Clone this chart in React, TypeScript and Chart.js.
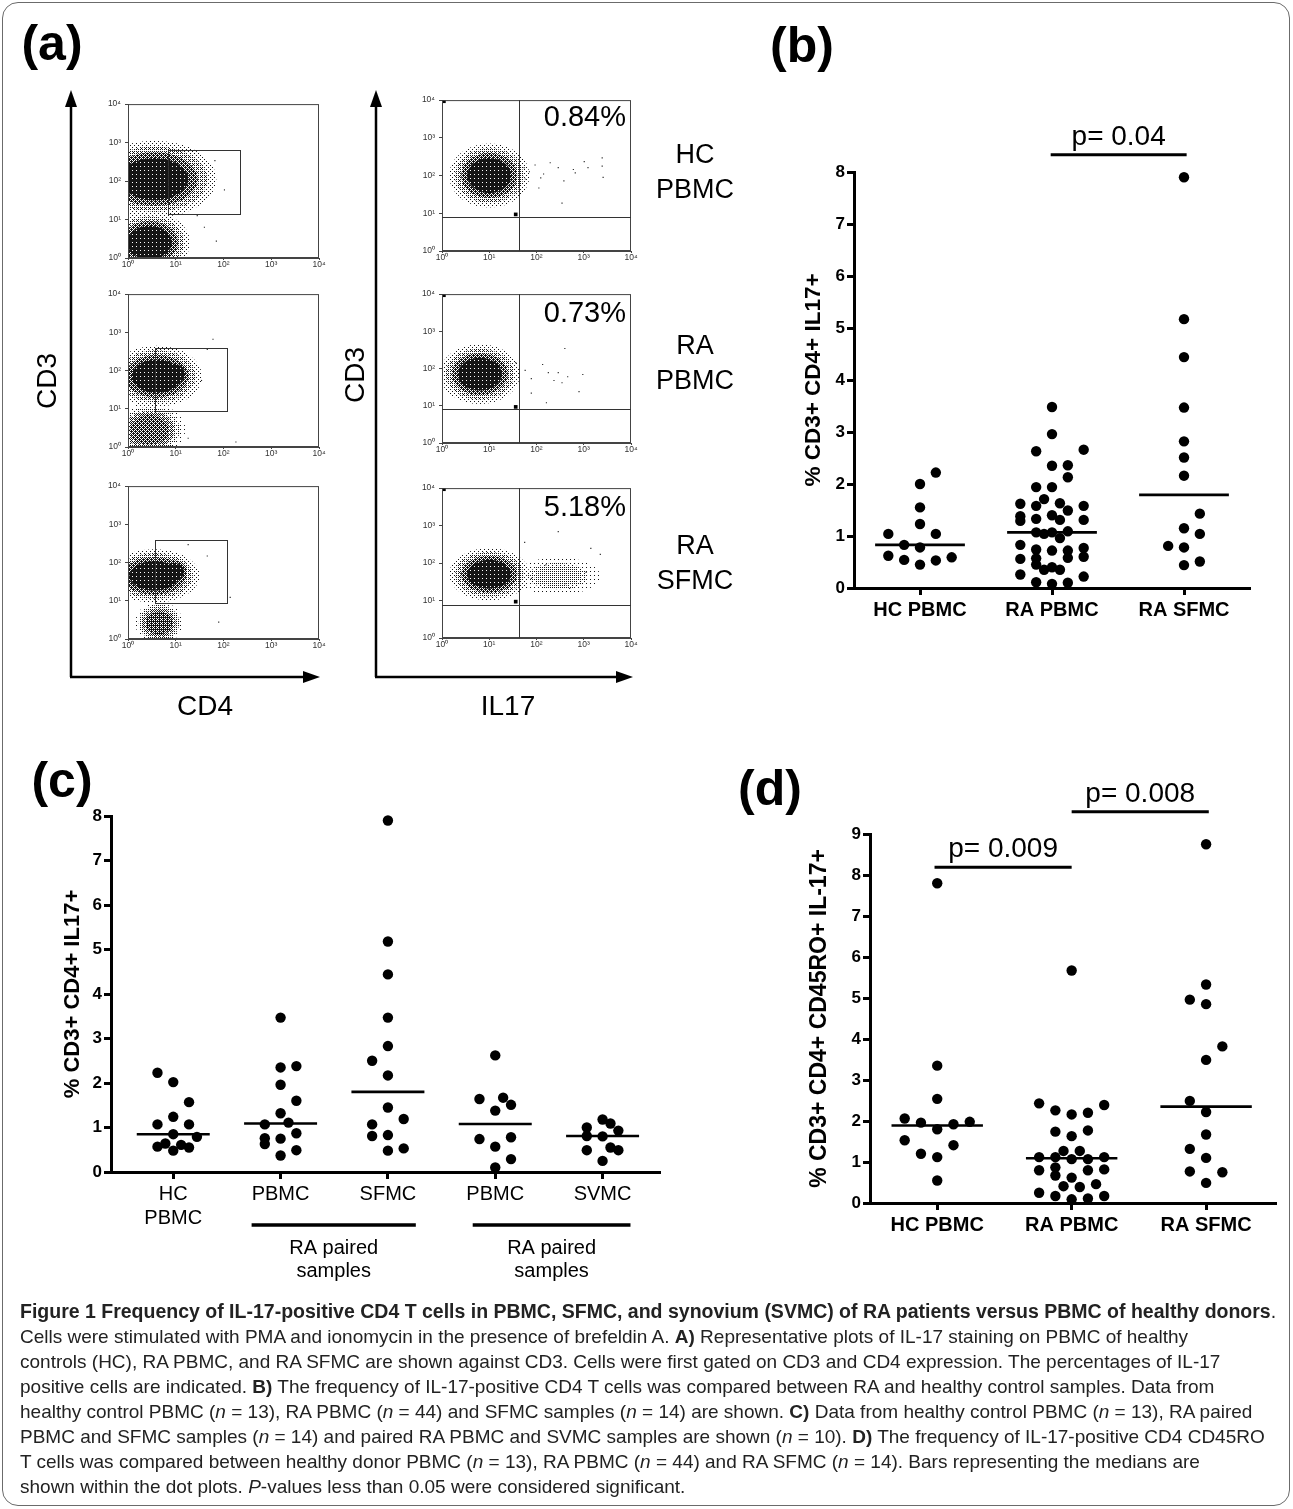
import { useEffect, useRef } from "react";
import type { ReactNode } from "react";
import { Chart, registerables } from "chart.js";

Chart.register(...registerables);

const FONT = "'Liberation Sans', Arial, Helvetica, sans-serif";

// ---------- panel (b): % CD3+ CD4+ IL17+ ----------
const bLabels = ["HC PBMC", "RA PBMC", "RA SFMC"];
const bHcValues = [2.22, 2.0, 1.55, 1.23, 1.04, 1.04, 0.83, 0.78, 0.62, 0.54, 0.45, 0.53, 0.59];
const bHcCols = [1, 0, 0, 0, -2, 1, -1, 0, -2, -1, 0, 1, 2];
const bRaPbmcValues = [
  3.48, 2.96, 2.63, 2.66, 2.35, 2.36, 2.13, 1.94, 1.94, 1.71, 1.62, 1.58, 1.63, 1.58, 1.49,
  1.38, 1.29, 1.33, 1.4, 1.31, 1.31, 1.07, 1.04, 1.07, 0.96, 1.09, 0.83, 0.74, 0.57, 0.45,
  0.72, 0.72, 0.58, 0.77, 0.6, 0.56, 0.35, 0.4, 0.35, 0.26, 0.22, 0.11, 0.08, 0.1,
];
const bRaPbmcCols = [
  0, 0, -1, 2, 0, 1, 1, -1, 0, -0.5, -2, -1, 0.5, 2, 1,
  -2, -2, -1, 0, 0.5, 2, -1, -0.5, 0, 0.5, 1, -2, -1, -1, -1,
  0, 1, 1, 2, 2, -2, -0.5, 0, 0.5, -2, 2, -1, 0, 1,
];
const bSfmcValues = [7.9, 5.17, 4.44, 3.47, 2.82, 2.51, 2.16, 1.43, 1.15, 1.04, 0.81, 0.78, 0.44, 0.51];
const bSfmcCols = [0, 0, 0, 0, 0, 0, 0, 1, 0, 1, -1, 0, 0, 1];
const bMedians = [0.83, 1.07, 1.79];
const bComparisons = [{ from: 1.99, to: 3.02, y: 8.33, label: "p= 0.04" }];

// ---------- panel (c): paired samples ----------
const cLabels = [["HC", "PBMC"], "PBMC", "SFMC", "PBMC", "SVMC"];
const cHcValues = [2.23, 2.02, 1.57, 1.24, 1.07, 1.07, 0.85, 0.79, 0.57, 0.64, 0.48, 0.61, 0.55];
const cHcCols = [-1, 0, 1, 0, -1, 1, 0, 1.5, -1, -0.5, 0, 0.5, 1];
const cPairPbmcValues = [3.47, 2.35, 2.38, 1.96, 1.6, 1.32, 1.07, 1.11, 0.87, 0.76, 0.63, 0.75, 0.49, 0.37];
const cPairPbmcCols = [0, 0, 1, 0, 1, 0, -1, 0.5, 1, -1, -1, 0, 1, 0];
const cSfmcValues = [7.9, 5.18, 4.44, 3.47, 2.83, 2.5, 2.17, 1.45, 1.19, 1.07, 0.81, 0.83, 0.48, 0.53];
const cSfmcCols = [0, 0, 0, 0, 0, -1, 0, 0, 1, -1, -1, 0, 0, 1];
const cSynPbmcValues = [2.62, 1.64, 1.67, 1.51, 1.38, 0.74, 0.78, 0.57, 0.29, 0.1];
const cSynPbmcCols = [0, -1, 0.5, 1, 0, -1, 1, 0, 1, 0];
const cSvmcValues = [1.18, 1.09, 1.0, 0.93, 0.81, 0.8, 0.49, 0.55, 0.49, 0.25];
const cSvmcCols = [0, 0.5, -1, 1, -1, 0, -1, 0.5, 1, 0];
const cMedians = [0.85, 1.09, 1.8, 1.08, 0.81];
const cBrackets = [
  { from: 1.73, to: 3.26, lines: ["RA paired", "samples"] },
  { from: 3.79, to: 5.26, lines: ["RA paired", "samples"] },
];

// ---------- panel (d): % CD3+ CD4+ CD45RO+ IL-17+ ----------
const dLabels = ["HC PBMC", "RA PBMC", "RA SFMC"];
const dHcValues = [7.8, 3.35, 2.54, 2.06, 1.96, 1.92, 1.98, 1.8, 1.53, 1.41, 1.2, 1.12, 0.55];
const dHcCols = [0, 0, 0, -2, -1, 1, 2, 0, -2, 1, -1, 0, 0];
const dRaPbmcValues = [
  5.67, 2.43, 2.26, 2.16, 2.2, 2.39, 1.74, 1.63, 1.77, 1.27, 1.27, 1.12, 1.12, 1.07, 1.07,
  1.12, 0.8, 0.87, 0.67, 0.8, 0.82, 0.62, 0.41, 0.39, 0.46, 0.25, 0.17, 0.09, 0.11, 0.17,
];
const dRaPbmcCols = [
  0, -2, -1, 0, 1, 2, -1, 0, 1, -0.5, 0.5, -2, -1, 0, 1,
  2, -2, -1, -1, 1, 2, 0, -0.5, 0.5, 1.5, -2, -1, 0, 1, 2,
];
const dSfmcValues = [8.75, 5.33, 4.96, 4.85, 3.82, 3.49, 2.49, 2.22, 1.67, 1.32, 1.1, 0.77, 0.75, 0.49];
const dSfmcCols = [0, 0, -1, 0, 1, 0, -1, 0, 0, -1, 0, -1, 1, 0];
const dMedians = [1.89, 1.09, 2.35];
const dComparisons = [
  { from: 0.98, to: 2.0, y: 8.19, label: "p= 0.009" },
  { from: 2.0, to: 3.02, y: 9.54, label: "p= 0.008" },
];

// ---------- panel (a): flow plots, everything in log10 units ----------
const decades = [1, 10, 100, 1000, 10000];
const superscripts = ["\u2070", "\u00b9", "\u00b2", "\u00b3", "\u2074"];
// [centre x, centre y, spread x, spread y, darkness]
const cd4Clusters = [
  [[0.55, 2.05, 1.3, 1.0, 1], [0.45, 0.4, 0.85, 0.8, 1]],
  [[0.6, 1.85, 0.95, 0.8, 1], [0.95, 1.9, 0.45, 0.5, 1], [0.45, 0.45, 0.75, 0.7, 0.7]],
  [[0.55, 1.65, 0.95, 0.7, 1], [0.95, 1.75, 0.4, 0.45, 1], [0.65, 0.42, 0.5, 0.55, 0.75]],
];
const cd4Sparse = [
  [[1.82, 2.53], [2.02, 1.77], [1.85, 0.44], [1.45, 1.1], [1.6, 0.8]],
  [[1.78, 2.82], [1.66, 2.55], [1.54, 1.74], [2.26, 0.13], [1.26, 0.23]],
  [[1.26, 2.47], [1.66, 2.17], [1.34, 0.93], [1.9, 0.44], [2.14, 1.09]],
];
// [x min, x max, y min, y max]
const cd4Gates = [
  [0.83, 2.33, 1.15, 2.82],
  [0.56, 2.06, 0.93, 2.58],
  [0.56, 2.06, 0.93, 2.59],
];
const il17Clusters = [
  [[1.0, 2.0, 0.85, 0.85, 1]],
  [[0.8, 1.85, 0.85, 0.8, 1]],
  [[1.0, 1.7, 0.85, 0.7, 1], [2.45, 1.65, 0.9, 0.5, 0.3]],
];
const il17Sparse = [
  [[1.74, 2.21], [1.76, 1.91], [1.97, 2.28], [2.05, 1.67], [2.15, 2.04], [2.29, 2.34], [2.46, 2.21],
    [2.54, 1.27], [2.58, 1.86], [2.78, 2.16], [2.82, 2.07], [3.01, 2.37], [3.09, 2.21], [3.39, 2.47],
    [3.39, 2.25], [3.41, 1.95], [2.09, 1.94], [1.85, 2.1]],
  [[1.56, 2.16], [1.76, 1.95], [1.89, 1.73], [2.13, 2.11], [2.25, 1.89], [2.37, 1.68], [2.46, 1.89],
    [2.54, 1.62], [2.6, 2.54], [2.66, 1.78], [2.98, 1.84], [2.9, 1.38], [1.89, 1.34], [2.21, 1.08]],
  [[2.46, 2.84], [3.15, 2.39], [3.35, 2.23], [1.89, 1.59], [2.7, 1.32], [1.75, 2.55], [3.05, 1.75],
    [2.2, 1.95], [2.6, 1.45]],
];
// [vertical line x, horizontal line y]
const il17Quadrants = [[1.63, 0.91], [1.63, 0.9], [1.63, 0.88]];
const il17Markers = [[0.04, 3.97], [1.56, 0.97]];
const il17Percents = ["0.84%", "0.73%", "5.18%"];
const sampleNames = [["HC", "PBMC"], ["RA", "PBMC"], ["RA", "SFMC"]];

const BAYER = [
  [0, 8, 2, 10],
  [12, 4, 14, 6],
  [3, 11, 1, 9],
  [15, 7, 13, 5],
];
const DENSITY_LAYERS = [
  [1.0, 0.12],
  [0.85, 0.3],
  [0.7, 0.6],
  [0.55, 0.92],
];

function speckle(ctx: CanvasRenderingContext2D, density: number) {
  const tile = document.createElement("canvas");
  tile.width = 4;
  tile.height = 4;
  const t = tile.getContext("2d")!;
  t.fillStyle = "#151515";
  for (let i = 0; i < 4; i++) {
    for (let j = 0; j < 4; j++) {
      if ((BAYER[i][j] + 0.5) / 16 < density) t.fillRect(j, i, 1, 1);
    }
  }
  return ctx.createPattern(tile, "repeat")!;
}

type Area = { l: number; t: number; r: number; b: number };

function FlowPlot({
  area,
  clusters,
  sparse,
  gate,
  quadrant,
  markers,
}: {
  area: Area;
  clusters: number[][];
  sparse: number[][];
  gate?: number[];
  quadrant?: number[];
  markers?: number[][];
}) {
  const canvasRef = useRef<HTMLCanvasElement | null>(null);
  const padL = 36;
  const padT = 7;
  const padR = 11;
  const padB = 14;
  const width = area.r - area.l + padL + padR;
  const height = area.b - area.t + padT + padB;

  useEffect(() => {
    if (!canvasRef.current) return;
    const tickLabel = (v: unknown) => "10" + superscripts[Math.round(Math.log10(Number(v)))];
    const axisBase = {
      type: "logarithmic" as const,
      min: 1,
      max: 10000,
      afterBuildTicks: (axis: any) => {
        axis.ticks = decades.map((value) => ({ value }));
      },
      ticks: {
        callback: tickLabel,
        autoSkip: false,
        maxRotation: 0,
        color: "#333",
        font: { family: FONT, size: 8.5 },
      },
      border: { display: true, color: "#444", width: 1 },
    };

    const layers = {
      id: "flowLayers",
      beforeDatasetsDraw(chart: any) {
        const { ctx, chartArea: a } = chart;
        const x = chart.scales.x;
        const y = chart.scales.y;
        ctx.save();
        ctx.beginPath();
        ctx.rect(a.left, a.top, a.right - a.left, a.bottom - a.top);
        ctx.clip();
        for (const [cx, cy, sx, sy, dark] of clusters) {
          const px = x.getPixelForValue(10 ** cx);
          const py = y.getPixelForValue(10 ** cy);
          for (const [k, d] of DENSITY_LAYERS) {
            const rx = x.getPixelForValue(10 ** (cx + sx * k)) - px;
            const ry = py - y.getPixelForValue(10 ** (cy + sy * k));
            ctx.fillStyle = speckle(ctx, d * dark);
            ctx.beginPath();
            ctx.ellipse(px, py, rx, ry, 0, 0, Math.PI * 2);
            ctx.fill();
          }
        }
        ctx.restore();
      },
      afterDatasetsDraw(chart: any) {
        const { ctx, chartArea: a } = chart;
        const x = chart.scales.x;
        const y = chart.scales.y;
        ctx.save();
        ctx.strokeStyle = "#444";
        ctx.lineWidth = 1;
        ctx.strokeRect(a.left + 0.5, a.top + 0.5, a.right - a.left - 1, a.bottom - a.top - 1);
        ctx.strokeStyle = "#333";
        if (gate) {
          const x1 = x.getPixelForValue(10 ** gate[0]);
          const x2 = x.getPixelForValue(10 ** gate[1]);
          const y1 = y.getPixelForValue(10 ** gate[2]);
          const y2 = y.getPixelForValue(10 ** gate[3]);
          ctx.strokeRect(Math.round(x1) + 0.5, Math.round(y2) + 0.5, Math.round(x2 - x1), Math.round(y1 - y2));
        }
        if (quadrant) {
          const qx = Math.round(x.getPixelForValue(10 ** quadrant[0])) + 0.5;
          const qy = Math.round(y.getPixelForValue(10 ** quadrant[1])) + 0.5;
          ctx.beginPath();
          ctx.moveTo(qx, a.top);
          ctx.lineTo(qx, a.bottom);
          ctx.moveTo(a.left, qy);
          ctx.lineTo(a.right, qy);
          ctx.stroke();
        }
        ctx.restore();
      },
    };

    const chart = new Chart(canvasRef.current, {
      type: "scatter",
      data: {
        datasets: [
          {
            data: sparse.map(([a, b]) => ({ x: 10 ** a, y: 10 ** b })),
            pointStyle: "rect",
            pointRadius: 0.8,
            backgroundColor: "#222",
            borderWidth: 0,
          },
          {
            data: (markers || []).map(([a, b]) => ({ x: 10 ** a, y: 10 ** b })),
            pointStyle: "rect",
            pointRadius: 2.6,
            backgroundColor: "#000",
            borderWidth: 0,
          },
        ],
      },
      options: {
        animation: false,
        responsive: false,
        maintainAspectRatio: false,
        events: [],
        layout: { padding: { top: padT, right: padR, left: 0, bottom: 0 } },
        plugins: { legend: { display: false }, tooltip: { enabled: false } },
        scales: {
          x: {
            ...axisBase,
            afterFit: (s: any) => {
              s.height = padB;
            },
            ticks: { ...axisBase.ticks, padding: 0 },
            grid: { drawOnChartArea: false, tickLength: 2, tickColor: "#444", tickWidth: 1 },
          },
          y: {
            ...axisBase,
            afterFit: (s: any) => {
              s.width = padL;
            },
            ticks: { ...axisBase.ticks, padding: 4 },
            grid: { drawOnChartArea: false, tickLength: 3, tickColor: "#444", tickWidth: 1 },
          },
        },
      } as any,
      plugins: [layers],
    });
    return () => chart.destroy();
  }, [area, clusters, sparse, gate, quadrant, markers]);

  return (
    <canvas
      ref={canvasRef}
      width={width}
      height={height}
      style={{ position: "absolute", left: area.l - padL, top: area.t - padT, width, height }}
    />
  );
}

type Group = { values: number[]; cols: number[] };
type Comparison = { from: number; to: number; y: number; label: string };
type Bracket = { from: number; to: number; lines: string[] };

type DotPlotProps = {
  left: number;
  top: number;
  width: number;
  height: number;
  axisWidth: number;
  axisHeight: number;
  padTop: number;
  padRight: number;
  labels: (string | string[])[];
  labelWeight: string;
  groups: Group[];
  medians: number[];
  xMin: number;
  xMax: number;
  yMax: number;
  colStep: number;
  yTitle: string;
  titleSize: number;
  titlePad: number;
  comparisons?: Comparison[];
  brackets?: Bracket[];
};

function DotPlot(p: DotPlotProps) {
  const canvasRef = useRef<HTMLCanvasElement | null>(null);

  useEffect(() => {
    if (!canvasRef.current) return;
    const comparisons = p.comparisons || [];
    const brackets = p.brackets || [];

    const dots = p.groups.map((g, gi) => ({
      data: g.values.map((v, i) => ({ x: gi + 1 + g.cols[i] * p.colStep, y: v })),
      backgroundColor: "#000",
      borderWidth: 0,
      pointRadius: 5.2,
      clip: false,
    }));
    const medianLines = p.medians.map((m, gi) => ({
      data: [
        { x: gi + 1 - 0.34, y: m },
        { x: gi + 1 + 0.34, y: m },
      ],
      showLine: true,
      borderColor: "#000",
      borderWidth: 2.6,
      pointRadius: 0,
      clip: false,
    }));

    const notes = {
      id: "notes",
      afterDatasetsDraw(chart: any) {
        const { ctx, chartArea } = chart;
        const x = chart.scales.x;
        const y = chart.scales.y;
        ctx.save();
        ctx.fillStyle = "#000";
        ctx.strokeStyle = "#000";
        ctx.textAlign = "center";
        for (const c of comparisons) {
          const x1 = x.getPixelForValue(c.from);
          const x2 = x.getPixelForValue(c.to);
          const yy = y.getPixelForValue(c.y);
          ctx.lineWidth = 3;
          ctx.beginPath();
          ctx.moveTo(x1, yy);
          ctx.lineTo(x2, yy);
          ctx.stroke();
          ctx.font = `28px ${FONT}`;
          ctx.textBaseline = "alphabetic";
          ctx.fillText(c.label, (x1 + x2) / 2, yy - 10);
        }
        for (const b of brackets) {
          const x1 = x.getPixelForValue(b.from);
          const x2 = x.getPixelForValue(b.to);
          const base = chartArea.bottom;
          ctx.lineWidth = 3.5;
          ctx.beginPath();
          ctx.moveTo(x1, base + 53);
          ctx.lineTo(x2, base + 53);
          ctx.stroke();
          ctx.font = `20px ${FONT}`;
          ctx.textBaseline = "middle";
          b.lines.forEach((t, i) => ctx.fillText(t, (x1 + x2) / 2, base + 76 + i * 23));
        }
        ctx.restore();
      },
    };

    const axisLines = {
      drawOnChartArea: false,
      drawTicks: true,
      tickLength: 7,
      tickWidth: 3,
      tickColor: "#000",
    };

    const chart = new Chart(canvasRef.current, {
      type: "scatter",
      data: { datasets: [...dots, ...medianLines] as any },
      options: {
        animation: false,
        responsive: false,
        maintainAspectRatio: false,
        events: [],
        layout: { padding: { top: p.padTop, right: p.padRight, left: 0, bottom: 0 } },
        plugins: { legend: { display: false }, tooltip: { enabled: false } },
        scales: {
          x: {
            type: "linear",
            min: p.xMin,
            max: p.xMax,
            afterBuildTicks: (axis: any) => {
              axis.ticks = p.labels.map((_, i) => ({ value: i + 1 }));
            },
            afterFit: (axis: any) => {
              axis.height = p.axisHeight;
            },
            ticks: {
              callback: (v: unknown) => p.labels[Math.round(Number(v)) - 1],
              autoSkip: false,
              maxRotation: 0,
              minRotation: 0,
              padding: 3,
              color: "#000",
              font: { family: FONT, size: 20, weight: p.labelWeight, lineHeight: 1.2 },
            },
            grid: axisLines,
            border: { display: true, color: "#000", width: 3 },
          },
          y: {
            min: 0,
            max: p.yMax,
            afterFit: (axis: any) => {
              axis.width = p.axisWidth;
            },
            ticks: {
              stepSize: 1,
              padding: 2,
              color: "#000",
              font: { family: FONT, size: 17, weight: "bold" },
            },
            grid: axisLines,
            border: { display: true, color: "#000", width: 3 },
            title: {
              display: true,
              text: p.yTitle,
              color: "#000",
              font: { family: FONT, size: p.titleSize, weight: "bold" },
              padding: { top: p.titlePad, bottom: 0 },
            },
          },
        },
      } as any,
      plugins: [notes],
    });
    return () => chart.destroy();
  }, [p]);

  return (
    <canvas
      ref={canvasRef}
      width={p.width}
      height={p.height}
      style={{ position: "absolute", left: p.left, top: p.top, width: p.width, height: p.height }}
    />
  );
}

function Text({
  x,
  y,
  size,
  weight = "normal",
  anchor = "center",
  rotate = false,
  lineHeight = 1.15,
  children,
}: {
  x: number;
  y: number;
  size: number;
  weight?: string;
  anchor?: "center" | "end";
  rotate?: boolean;
  lineHeight?: number;
  children: ReactNode;
}) {
  const tx = anchor === "end" ? "-100%" : "-50%";
  return (
    <div
      style={{
        position: "absolute",
        left: x,
        top: y,
        transform: `translate(${tx}, -50%)${rotate ? " rotate(-90deg)" : ""}`,
        fontSize: size,
        fontWeight: weight as any,
        lineHeight,
        whiteSpace: "nowrap",
        textAlign: "center",
      }}
    >
      {children}
    </div>
  );
}

const leftAreas: Area[] = [
  { l: 128, t: 102, r: 319, b: 258 },
  { l: 128, t: 292, r: 319, b: 447 },
  { l: 128, t: 484, r: 319, b: 639 },
];
const rightAreas: Area[] = [
  { l: 442, t: 98, r: 631, b: 251 },
  { l: 442, t: 292, r: 631, b: 443 },
  { l: 442, t: 486, r: 631, b: 638 },
];

const bGroups = [
  { values: bHcValues, cols: bHcCols },
  { values: bRaPbmcValues, cols: bRaPbmcCols },
  { values: bSfmcValues, cols: bSfmcCols },
];
const cGroups = [
  { values: cHcValues, cols: cHcCols },
  { values: cPairPbmcValues, cols: cPairPbmcCols },
  { values: cSfmcValues, cols: cSfmcCols },
  { values: cSynPbmcValues, cols: cSynPbmcCols },
  { values: cSvmcValues, cols: cSvmcCols },
];
const dGroups = [
  { values: dHcValues, cols: dHcCols },
  { values: dRaPbmcValues, cols: dRaPbmcCols },
  { values: dSfmcValues, cols: dSfmcCols },
];

const bProps: DotPlotProps = {
  left: 790, top: 95, width: 490, height: 545,
  axisWidth: 64, axisHeight: 52, padTop: 77, padRight: 30,
  labels: bLabels, labelWeight: "bold", groups: bGroups, medians: bMedians,
  xMin: 0.5, xMax: 3.5, yMax: 8, colStep: 0.12,
  yTitle: "% CD3+ CD4+ IL17+", titleSize: 22.5, titlePad: 10,
  comparisons: bComparisons,
};
const cProps: DotPlotProps = {
  left: 40, top: 800, width: 630, height: 490,
  axisWidth: 71, axisHeight: 118, padTop: 16, padRight: 10,
  labels: cLabels, labelWeight: "normal", groups: cGroups, medians: cMedians,
  xMin: 0.42, xMax: 5.535, yMax: 8, colStep: 0.147,
  yTitle: "% CD3+ CD4+ IL17+", titleSize: 22, titlePad: 20,
  brackets: cBrackets,
};
const dProps: DotPlotProps = {
  left: 785, top: 760, width: 500, height: 490,
  axisWidth: 85, axisHeight: 47, padTop: 74, padRight: 9,
  labels: dLabels, labelWeight: "bold", groups: dGroups, medians: dMedians,
  xMin: 0.5, xMax: 3.52, yMax: 9, colStep: 0.121,
  yTitle: "% CD3+ CD4+ CD45RO+ IL-17+", titleSize: 23, titlePad: 21,
  comparisons: dComparisons,
};

const captionLines: ReactNode[] = [
  <>
    <b>
      Figure 1 Frequency of IL-17-positive CD4 T cells in PBMC, SFMC, and synovium (SVMC) of RA patients versus PBMC of
      healthy donors
    </b>
    .
  </>,
  <>
    Cells were stimulated with PMA and ionomycin in the presence of brefeldin A. <b>A)</b> Representative plots of IL-17
    staining on PBMC of healthy
  </>,
  <>
    controls (HC), RA PBMC, and RA SFMC are shown against CD3. Cells were first gated on CD3 and CD4 expression. The
    percentages of IL-17
  </>,
  <>
    positive cells are indicated. <b>B)</b> The frequency of IL-17-positive CD4 T cells was compared between RA and healthy
    control samples. Data from
  </>,
  <>
    healthy control PBMC (<i>n</i> = 13), RA PBMC (<i>n</i> = 44) and SFMC samples (<i>n</i> = 14) are shown. <b>C)</b> Data
    from healthy control PBMC (<i>n</i> = 13), RA paired
  </>,
  <>
    PBMC and SFMC samples (<i>n</i> = 14) and paired RA PBMC and SVMC samples are shown (<i>n</i> = 10). <b>D)</b> The
    frequency of IL-17-positive CD4 CD45RO
  </>,
  <>
    T cells was compared between healthy donor PBMC (<i>n</i> = 13), RA PBMC (<i>n</i> = 44) and RA SFMC (<i>n</i> = 14).
    Bars representing the medians are
  </>,
  <>
    shown within the dot plots. <i>P</i>-values less than 0.05 were considered significant.
  </>,
];

function Arrow({ x1, y1, x2, y2 }: { x1: number; y1: number; x2: number; y2: number }) {
  const vertical = x1 === x2;
  const head = vertical
    ? `${x2},${y2} ${x2 - 6},${y2 + 17} ${x2 + 6},${y2 + 17}`
    : `${x2},${y2} ${x2 - 17},${y2 - 6} ${x2 - 17},${y2 + 6}`;
  return (
    <g>
      <line
        x1={x1}
        y1={y1}
        x2={vertical ? x2 : x2 - 10}
        y2={vertical ? y2 + 10 : y2}
        stroke="#000"
        strokeWidth={2.5}
      />
      <polygon points={head} fill="#000" />
    </g>
  );
}

export default function App() {
  return (
    <div
      style={{
        position: "absolute",
        left: 0,
        top: 0,
        width: 1293,
        height: 1509,
        background: "#fff",
        overflow: "hidden",
        fontFamily: FONT,
        color: "#000",
      }}
    >
      <div
        style={{
          position: "absolute",
          left: 2,
          top: 2,
          width: 1286,
          height: 1502,
          border: "1.5px solid #6b6b6b",
          borderRadius: 16,
        }}
      />

      <Text x={52} y={44} size={50} weight="bold">(a)</Text>
      <Text x={802} y={46} size={50} weight="bold">(b)</Text>
      <Text x={62} y={781} size={50} weight="bold">(c)</Text>
      <Text x={770} y={789} size={50} weight="bold">(d)</Text>

      {leftAreas.map((area, i) => (
        <FlowPlot key={"cd4" + i} area={area} clusters={cd4Clusters[i]} sparse={cd4Sparse[i]} gate={cd4Gates[i]} />
      ))}
      {rightAreas.map((area, i) => (
        <FlowPlot
          key={"il17" + i}
          area={area}
          clusters={il17Clusters[i]}
          sparse={il17Sparse[i]}
          quadrant={il17Quadrants[i]}
          markers={il17Markers}
        />
      ))}

      <svg width={1293} height={1509} style={{ position: "absolute", left: 0, top: 0, pointerEvents: "none" }}>
        <Arrow x1={71} y1={677} x2={71} y2={90} />
        <Arrow x1={70} y1={677} x2={320} y2={677} />
        <Arrow x1={376} y1={677} x2={376} y2={90} />
        <Arrow x1={375} y1={677} x2={633} y2={677} />
      </svg>

      <Text x={47} y={381} size={28} rotate>CD3</Text>
      <Text x={355} y={375} size={28} rotate>CD3</Text>
      <Text x={205} y={706} size={28}>CD4</Text>
      <Text x={508} y={706} size={28}>IL17</Text>

      {il17Percents.map((t, i) => (
        <Text key={t} x={626} y={[117, 313, 507][i]} size={29} anchor="end">
          {t}
        </Text>
      ))}
      {sampleNames.map((lines, i) => (
        <Text key={i} x={695} y={[172, 363, 563][i]} size={27} lineHeight={1.3}>
          {lines[0]}
          <br />
          {lines[1]}
        </Text>
      ))}

      <DotPlot {...bProps} />
      <DotPlot {...cProps} />
      <DotPlot {...dProps} />

      {captionLines.map((line, i) => (
        <div
          key={i}
          style={{
            position: "absolute",
            left: 20,
            top: 1298.5 + i * 25.1,
            whiteSpace: "nowrap",
            fontSize: i === 0 ? 19.5 : 19,
            lineHeight: "25px",
            color: "#222",
          }}
        >
          {line}
        </div>
      ))}
    </div>
  );
}
